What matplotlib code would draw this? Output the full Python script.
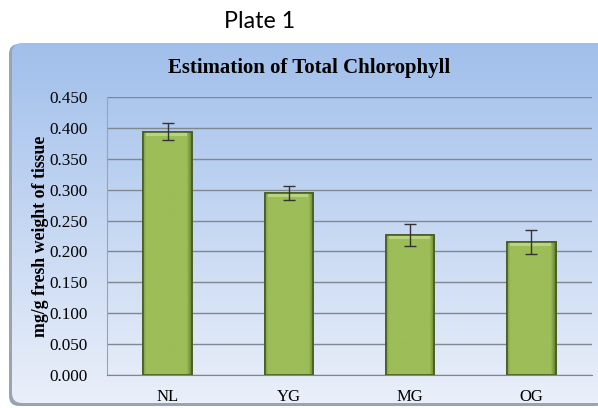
import numpy as np
import matplotlib
matplotlib.use("Agg")
import matplotlib.pyplot as plt
from matplotlib.patches import FancyBboxPatch
from matplotlib.colors import to_rgb

categories = ["NL", "YG", "MG", "OG"]
values = [0.394, 0.295, 0.226, 0.215]
errors = [0.014, 0.011, 0.018, 0.020]
yticks = [0.0, 0.05, 0.10, 0.15, 0.20, 0.25, 0.30, 0.35, 0.40, 0.45]

W, H = 598, 408
fig = plt.figure(figsize=(W / 100, H / 100), dpi=100)
fig.patch.set_facecolor("white")
renderer = fig.canvas.get_renderer()


def fit_width(txt, target_px, vertical=False):
    bb = txt.get_window_extent(renderer=renderer)
    cur = bb.height if vertical else bb.width
    txt.set_fontsize(txt.get_fontsize() * target_px / cur)


# background frame with gradient
bg = fig.add_axes([0, 0, 1, 1])
bg.axis("off")
fx0, fy0, fx1, fy1 = 10, 43, 606, 405
shadow = FancyBboxPatch((fx0 - 1, fy0 + 1), fx1 - fx0, fy1 - fy0,
                        boxstyle="round,pad=0,rounding_size=10",
                        facecolor="#9aa3b0", edgecolor="none", zorder=0)
bg.add_patch(shadow)
frame = FancyBboxPatch((fx0 + 2, fy0), fx1 - fx0, fy1 - fy0 - 2,
                       boxstyle="round,pad=0,rounding_size=10",
                       facecolor="none", edgecolor="none", zorder=1)
bg.add_patch(frame)
t = np.linspace(0, 1, 256)[:, None]
top = np.array([0.63, 0.75, 0.92])
bot = np.array([0.92, 0.94, 0.98])
grad = top[None, None, :] * (1 - t[:, :, None]) + bot[None, None, :] * t[:, :, None]
grad = np.repeat(grad, 2, axis=1)
im = bg.imshow(grad, extent=(fx0, fx1, fy1, fy0), aspect="auto", zorder=1,
               interpolation="bilinear")
im.set_clip_path(frame)
bg.set_xlim(0, W)
bg.set_ylim(H, 0)

plate = fig.text(260 / W, 1 - 22 / H, "Plate 1", ha="center", va="center",
                 fontsize=16, family="Lato")
fit_width(plate, 71)
title = fig.text(309 / W, 1 - 68 / H, "Estimation of Total Chlorophyll",
                 ha="center", va="center", fontsize=15, fontweight="bold",
                 family="Liberation Serif")
fit_width(title, 282)

ax = fig.add_axes([107 / W, 1 - 374.7 / H, (592 - 107) / W, (374.7 - 97.3) / H])
ax.set_facecolor("none")
x = np.arange(len(categories))
bars = ax.bar(x, values, width=0.40, color="#9bbb59", edgecolor="#4a5d24",
              linewidth=1.2, zorder=3)

# bevel shading inside each bar
face = np.array(to_rgb("#9cbd58"))
dark = np.array(to_rgb("#55702a"))
light = np.array(to_rgb("#c2d98a"))
u = np.linspace(0, 1, 100)
prof = np.ones_like(u)
prof[u < 0.06] = 0.55 + 0.45 * (u[u < 0.06] / 0.06)
prof[u > 0.90] = 1 - 0.85 * ((u[u > 0.90] - 0.90) / 0.10)
for b in bars:
    x0 = b.get_x()
    w = b.get_width()
    h = b.get_height()
    img = face[None, None, :] * prof[None, :, None] + dark[None, None, :] * (1 - prof[None, :, None])
    img = np.repeat(img, 2, axis=0)
    bi = ax.imshow(img, extent=(x0, x0 + w, 0, h), aspect="auto", zorder=3.5,
                   interpolation="bilinear")
    bi.set_clip_path(b)
    # light top bevel
    ax.fill_between([x0 + w * 0.06, x0 + w * 0.90], h - 0.006, h,
                    color=light, alpha=0.8, zorder=3.6, linewidth=0)
    ax.bar(x0 + w / 2, h, width=w, facecolor="none", edgecolor="#4a5d24",
           linewidth=1.2, zorder=3.7)

ax.errorbar(x, values, yerr=errors, fmt="none", ecolor="#333333",
            elinewidth=1, capsize=4, capthick=1, zorder=4)
ax.set_xlim(-0.5, 3.5)
ax.set_ylim(0, 0.45)
ax.set_yticks(yticks)
ax.set_yticklabels([f"{v:.3f}" for v in yticks])
ax.set_xticks(x)
ax.set_xticklabels(categories)
ax.yaxis.grid(True, color="#7f8790", linewidth=1, zorder=0)
ax.tick_params(axis="y", length=0, labelsize=12.3, pad=14)
ax.tick_params(axis="x", length=0, labelsize=12, pad=10)
for lab in ax.get_xticklabels() + ax.get_yticklabels():
    lab.set_family("Liberation Serif")
for s in ["top", "right"]:
    ax.spines[s].set_visible(False)
ax.spines["left"].set_color("#9aa4b0")
ax.spines["bottom"].set_color("#7f8790")
yl = ax.set_ylabel("mg/g fresh weight of tissue", fontsize=13, fontweight="bold",
                   family="Liberation Serif")
fit_width(yl, 200, vertical=True)
ax.yaxis.set_label_coords((41 - 107) / (592 - 107), 0.5)
yl.set_va("center")

fig.savefig("out.png", dpi=100)
